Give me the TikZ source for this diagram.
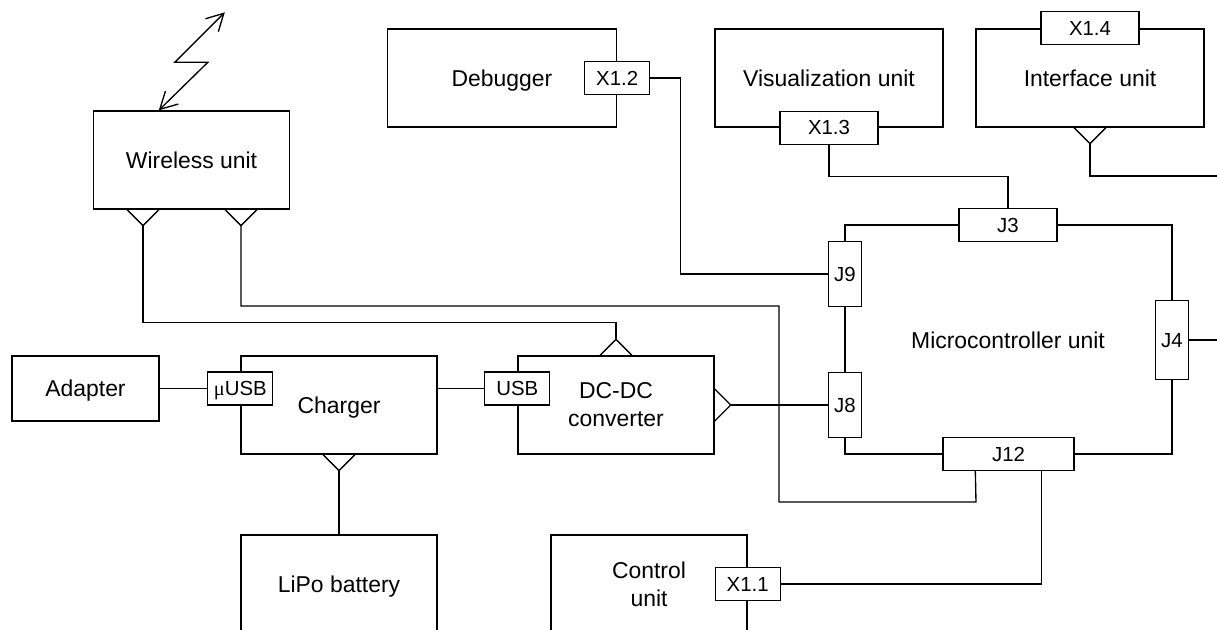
\documentclass[tikz,border=0pt]{standalone}
\usepackage{fontspec}
\setmainfont{Liberation Sans}
\newfontfamily\mufont{Liberation Serif}
\usetikzlibrary{calc,arrows.meta}

\begin{document}
\begin{tikzpicture}[x=0.025cm, y=-0.025cm, line width=0.95pt,
    every node/.style={font=\fontsize{16.3}{19.9}\selectfont},
    oneline/.style={text height=11.7pt, text depth=0pt},
    unit/.style={draw, fill=white, inner sep=0pt, align=center, minimum width=4.9cm, minimum height=2.45cm},
    port/.style={draw, fill=white, inner sep=0pt, text height=10.4pt, text depth=0pt, font=\fontsize{14.5}{17}\selectfont, minimum width=1.625cm, minimum height=0.825cm},
    vport/.style={port, minimum width=0.825cm, minimum height=1.625cm},
    barb/.tip={Straight Barb[length=12pt, width=13pt]}]
    \path[use as bounding box] (0,0) rectangle (1217,630);
    \clip (0,0) rectangle (1217,630);

    % units
    \node[unit, oneline] (wireless) at (191.5,160) {Wireless unit};
    \node[unit, oneline, minimum width=5.725cm] (debugger) at (502,78) {Debugger};
    \node[unit, oneline, minimum width=5.7cm] (visual) at (829,78) {Visualization unit};
    \node[unit, oneline, minimum width=5.7cm] (interface) at (1090,78) {Interface unit};
    \node[unit, oneline, minimum width=3.675cm, minimum height=1.625cm] (adapter) at (85.5,388.5) {Adapter};
    \node[unit, oneline] (charger) at (339,405) {Charger};
    \node[unit] (dcdc) at (616,405) {DC-DC\\converter};
    \node[unit, oneline] (lipo) at (339,584) {LiPo battery};
    \node[unit] (control) at (649,584) {Control\\unit};
    \node[oneline] (mcu) at (1008,340) {Microcontroller unit};

    % connectors
    \node[port] (musb) at (charger.west |- adapter) {{\mufont μ}USB};
    \node[port] (usb) at (dcdc.west |- adapter) {USB};
    \node[port] (x12) at (debugger.east) {X1.2};
    \node[port, minimum width=2.45cm] (x13) at (visual.south) {X1.3};
    \node[port, minimum width=2.45cm] (x14) at (interface.north) {X1.4};
    \node[port] (x11) at (control.east) {X1.1};
    \node[port, minimum width=2.45cm] (j3) at (1008,225) {J3};
    \node[vport] (j9) at (845,274) {J9};
    \node[vport] (j8) at (845,405) {J8};
    \node[vport, minimum height=1.975cm] (j4) at (1172,340) {J4};
    \node[port, minimum width=3.275cm] (j12) at (1008.5,454) {J12};

    % sockets
    \coordinate (ws1) at ($(wireless.south)+(-48.5,16)$);
    \coordinate (ws2) at ($(wireless.south)+(49.5,16)$);
    \coordinate (cs) at ($(charger.south)+(0,16)$);
    \coordinate (is) at ($(interface.south)+(0,16)$);
    \coordinate (dt) at ($(dcdc.north)+(0,-16)$);
    \coordinate (dr) at ($(dcdc.east)+(16,0)$);
    \foreach \s/\ax/\ay/\bx/\by in {ws1/-16/-16/16/-16, ws2/-16/-16/16/-16, cs/-16/-16/16/-16,
        is/-16/-16/16/-16, dt/-16/16/16/16, dr/-16/-16/-16/16}
        \draw ($(\s)+(\ax,\ay)$) -- (\s) -- ($(\s)+(\bx,\by)$);

    \coordinate (ant) at ($(wireless.north west)+(66,0)$);
    \coordinate (edge1) at (1230,176);
    \coordinate (edge2) at (1230,340);
    \coordinate (jb1) at ($(j12.south west)+(33,0)$);
    \coordinate (jb2) at ($(j12.south east)+(-33,0)$);

    % wires
    \draw[barb-barb] (ant) -- ++(49,-48) -- ++(-33,0) -- ++(50,-50);
    \draw (adapter.east) -- (musb.west);
    \draw (usb.west) -- (usb.west -| charger.east);
    \draw (cs) -- (lipo.north);
    \draw (dr) -- (j8.west);
    \draw (j9.south) -- (j8.north);
    \draw (x12.east) -- ++(30,0) |- (j9.west);
    \draw (x13.south) |- ($(x13.south)!.5!(j3.north)$) -| (j3.north);
    \draw (j3.west) -| (j9.north);
    \draw (j3.east) -| (j4.north);
    \draw (j4.south) |- (j12.east);
    \draw (j8.south) |- (j12.west);
    \draw (j4.east) -- (edge2);
    \draw (is) |- (edge1);
    \draw (ws1) |- ($(dt)+(0,-17)$) -- (dt);
    \draw (ws2) |- (779,306) |- (976,502) -- (jb1);
    \draw (jb2) |- (x11.east);
\end{tikzpicture}
\end{document}
